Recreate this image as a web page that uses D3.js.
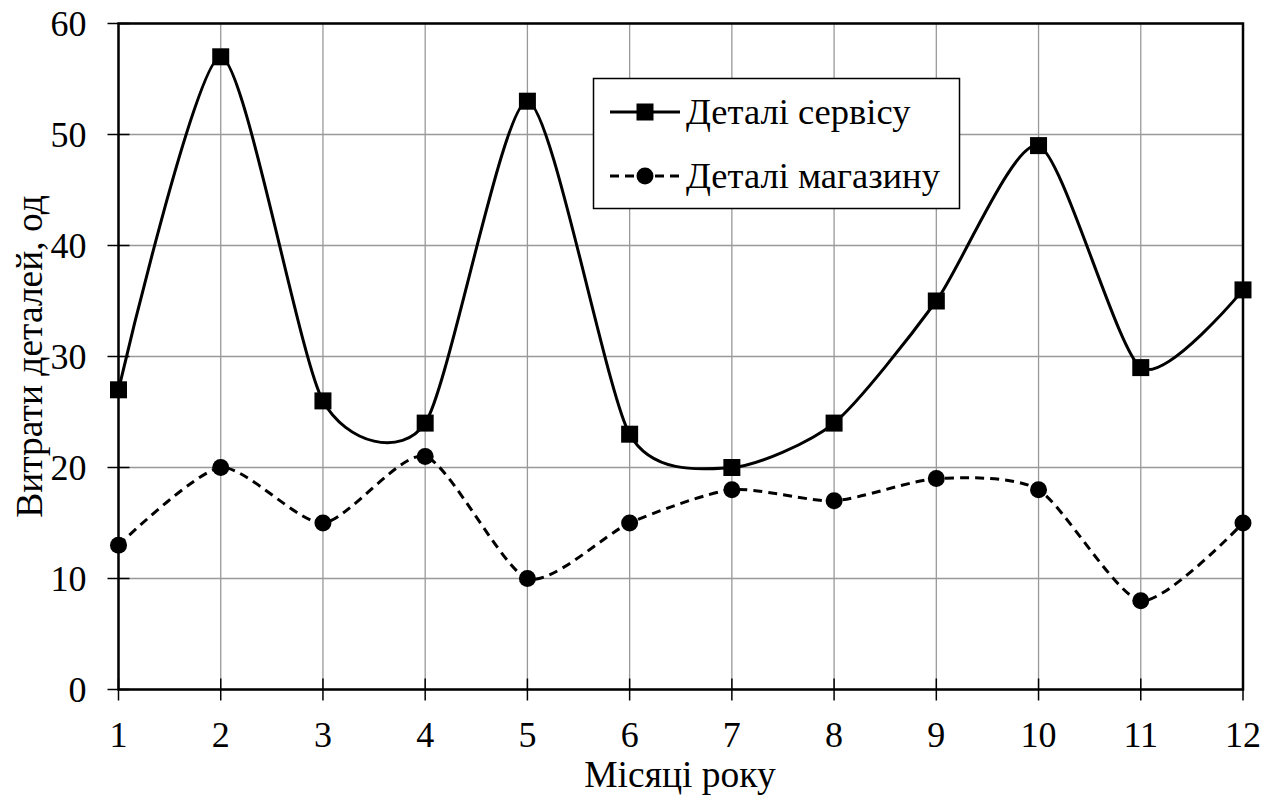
<!DOCTYPE html>
<html><head><meta charset="utf-8">
<script src="https://cdn.jsdelivr.net/npm/d3@7"></script>
<style>body{margin:0;background:#fff}svg{display:block}
text{font-family:"Liberation Serif","DejaVu Serif","Noto Serif",serif}</style>
</head><body>
<script>
const months = [1,2,3,4,5,6,7,8,9,10,11,12];
const serviceValues = [27,57,26,24,53,23,20,24,35,49,29,36];
const storeValues = [13,20,15,21,10,15,18,17,19,18,8,15];
const yTicks = [0,10,20,30,40,50,60];
const seriesNames = ["Деталі сервісу","Деталі магазину"];
const xTitle = "Місяці року";
const yTitle = "Витрати деталей, од";

const W=1275,H=803;
const L=118.5,R=1243,T=23.5,B=689.5;
const fs=36, fsT=37.5;
const svg=d3.select("body").append("svg").attr("width",W).attr("height",H);
const x=d3.scaleLinear().domain([1,12]).range([L,R]);
const y=d3.scaleLinear().domain([0,60]).range([B,T]);

svg.append("g").selectAll("line").data(months).join("line")
  .attr("x1",d=>x(d)).attr("x2",d=>x(d)).attr("y1",T).attr("y2",B)
  .attr("stroke","#999").attr("stroke-width",1.3);
svg.append("g").selectAll("line").data(yTicks).join("line")
  .attr("x1",L).attr("x2",R).attr("y1",d=>y(d)).attr("y2",d=>y(d))
  .attr("stroke","#999").attr("stroke-width",1.3);

svg.append("rect").attr("x",L).attr("y",T).attr("width",R-L).attr("height",B-T)
  .attr("fill","none").attr("stroke","#000").attr("stroke-width",2.5);

svg.append("g").selectAll("line").data(yTicks).join("line")
  .attr("x1",L-11).attr("x2",L+11).attr("y1",d=>y(d)).attr("y2",d=>y(d))
  .attr("stroke","#000").attr("stroke-width",1.5);
svg.append("g").selectAll("line").data(months).join("line")
  .attr("x1",d=>x(d)).attr("x2",d=>x(d)).attr("y1",B-11).attr("y2",B+11)
  .attr("stroke","#000").attr("stroke-width",1.5);

svg.append("g").selectAll("text").data(yTicks).join("text")
  .attr("x",L-32).attr("y",d=>y(d)+12).attr("text-anchor","end")
  .style("font-size",fs+"px").text(d=>d);
svg.append("g").selectAll("text").data(months).join("text")
  .attr("x",d=>x(d)).attr("y",B+57).attr("text-anchor","middle")
  .style("font-size",fs+"px").text(d=>d);

svg.append("text").attr("x",680).attr("y",787).attr("text-anchor","middle")
  .style("font-size",fsT+"px").text(xTitle);
svg.append("text").attr("transform",`translate(42,${(T+B)/2}) rotate(-90)`)
  .attr("text-anchor","middle").style("font-size",fsT+"px").text(yTitle);

const line=d3.line().x((d,i)=>x(months[i])).y(d=>y(d)).curve(d3.curveCardinal.tension(0.3));
svg.append("path").attr("d",line(serviceValues)).attr("fill","none").attr("stroke","#000").attr("stroke-width",3);
svg.append("path").attr("d",line(storeValues)).attr("fill","none").attr("stroke","#000").attr("stroke-width",3).attr("stroke-dasharray","9,6");

svg.append("g").selectAll("rect").data(serviceValues).join("rect")
  .attr("x",(d,i)=>x(months[i])-8.5).attr("y",d=>y(d)-8.5).attr("width",17).attr("height",17).attr("fill","#000");
svg.append("g").selectAll("circle").data(storeValues).join("circle")
  .attr("cx",(d,i)=>x(months[i])).attr("cy",d=>y(d)).attr("r",8.5).attr("fill","#000");

const lg=svg.append("g");
lg.append("rect").attr("x",593.5).attr("y",78.5).attr("width",366).attr("height",130)
  .attr("fill","#fff").attr("stroke","#000").attr("stroke-width",1.5);
const ly=[112,176];
lg.append("line").attr("x1",610).attr("x2",680).attr("y1",ly[0]).attr("y2",ly[0]).attr("stroke","#000").attr("stroke-width",3);
lg.append("rect").attr("x",636.5).attr("y",ly[0]-8.5).attr("width",17).attr("height",17).attr("fill","#000");
lg.append("line").attr("x1",610).attr("x2",680).attr("y1",ly[1]).attr("y2",ly[1]).attr("stroke","#000").attr("stroke-width",3).attr("stroke-dasharray","9,6");
lg.append("circle").attr("cx",645).attr("cy",ly[1]).attr("r",8.5).attr("fill","#000");
lg.selectAll("text").data(seriesNames).join("text")
  .attr("x",686).attr("y",(d,i)=>ly[i]+12).style("font-size","36.5px").text(d=>d);
</script>
</body></html>
